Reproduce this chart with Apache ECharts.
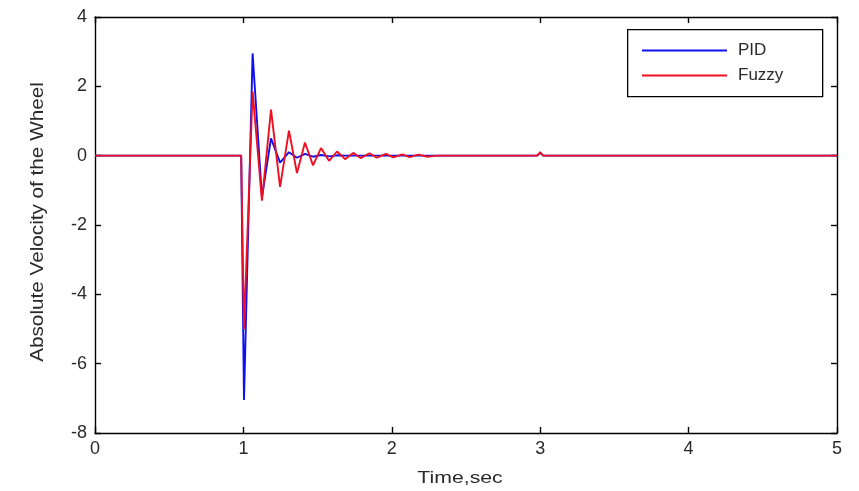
<!DOCTYPE html>
<html>
<head>
<meta charset="utf-8">
<script src="https://cdn.jsdelivr.net/npm/echarts@6/dist/echarts.min.js"></script>
<style>html,body{margin:0;padding:0;background:#fff;}#c{width:859px;height:491px;}</style>
</head>
<body>
<div id="c"></div>
<script>
// Data
var timeSec = [0, 0.5, 0.985, 1.004, 1.062, 1.125, 1.186, 1.247, 1.307, 1.361, 1.415, 1.469, 1.523, 1.577, 1.631, 1.685, 1.74, 1.79, 1.85, 1.9, 1.96, 2.01, 2.07, 2.12, 2.18, 2.24, 2.3, 2.5, 2.98, 3.0, 3.02, 3.5, 4, 4.5, 5];
var pidVel   = [0, 0, 0, -7.05, 2.95, -1.2, 0.5, -0.2, 0.1, -0.06, 0.05, -0.03, 0.02, -0.02, 0.01, 0, 0, 0, 0, 0, 0, 0, 0, 0, 0, 0, 0, 0, 0, 0.08, 0, 0, 0, 0, 0];
var fuzzyVel = [0, 0, 0, -5.0, 1.85, -1.3, 1.33, -0.9, 0.72, -0.5, 0.38, -0.28, 0.22, -0.15, 0.12, -0.1, 0.08, -0.07, 0.07, -0.06, 0.05, -0.05, 0.04, -0.04, 0.03, -0.03, 0, 0, 0, 0.1, 0, 0, 0, 0, 0];
var seriesNames = ['PID', 'Fuzzy'];
var xTitle = 'Time,sec';
var yTitle = 'Absolute Velocity of the Wheel';

function pairs(t, v) { return t.map(function (x, i) { return [x, v[i]]; }); }

var chart = echarts.init(document.getElementById('c'), null, { renderer: 'canvas' });
var font = 'Liberation Sans, Arial, sans-serif';
var txtColor = '#2a2a2a';
var axisCommon = {
  axisLine: { show: true, onZero: false, lineStyle: { color: '#000', width: 1.4 } },
  axisTick: { show: true, inside: true, length: 6, lineStyle: { color: '#000', width: 1.4 } },
  splitLine: { show: false }
};
chart.setOption({
  animation: false,
  backgroundColor: '#fff',
  grid: { left: 95, right: 22, top: 17, bottom: 58 },
  legend: {
    left: 637, top: 37, orient: 'vertical', itemGap: 8,
    itemWidth: 85, itemHeight: 2, icon: 'rect',
    textStyle: { fontFamily: font, fontSize: 17, color: txtColor, padding: [0, 0, 0, 6] },
    data: seriesNames
  },
  graphic: [
    { type: 'rect', left: 627, top: 29, z: 0,
      shape: { width: 195, height: 67 },
      style: { fill: '#fff', stroke: '#000', lineWidth: 1.3 } },
    { type: 'text', x: 460, y: 478, scaleX: 1.25,
      style: { text: xTitle, fontFamily: font, fontSize: 17, fill: txtColor, align: 'center', verticalAlign: 'middle' } },
    { type: 'text', x: 38, y: 222, rotation: Math.PI / 2, scaleX: 1.15,
      style: { text: yTitle, fontFamily: font, fontSize: 18, fill: txtColor, align: 'center', verticalAlign: 'middle' } }
  ],
  xAxis: [
    Object.assign({}, axisCommon, {
      type: 'value', min: 0, max: 5, interval: 1, position: 'bottom',
      axisLabel: { fontFamily: font, fontSize: 18, color: txtColor, margin: 7 }
    }),
    Object.assign({}, axisCommon, {
      type: 'value', min: 0, max: 5, interval: 1, position: 'top',
      axisLabel: { show: false }
    })
  ],
  yAxis: [
    Object.assign({}, axisCommon, {
      type: 'value', min: -8, max: 4, interval: 2, position: 'left',
      axisLabel: { fontFamily: font, fontSize: 18, color: txtColor, margin: 8 }
    }),
    Object.assign({}, axisCommon, {
      type: 'value', min: -8, max: 4, interval: 2, position: 'right',
      axisLabel: { show: false }
    })
  ],
  series: [
    { name: seriesNames[0], type: 'line', data: pairs(timeSec, pidVel), showSymbol: false, symbol: 'none',
      lineStyle: { color: '#1010ee', width: 1.9 }, itemStyle: { color: '#1010ee' }, z: 2 },
    { name: seriesNames[1], type: 'line', data: pairs(timeSec, fuzzyVel), showSymbol: false, symbol: 'none',
      lineStyle: { color: '#ee1020', width: 1.9 }, itemStyle: { color: '#ee1020' }, z: 3 }
  ]
});
</script>
</body>
</html>
